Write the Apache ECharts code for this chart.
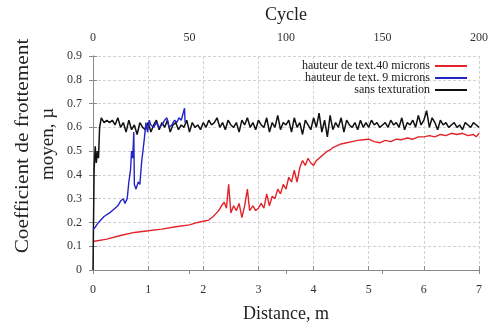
<!DOCTYPE html>
<html>
<head>
<meta charset="utf-8">
<script src="https://cdn.jsdelivr.net/npm/echarts@6/dist/echarts.min.js"></script>
<style>
  html, body { margin: 0; padding: 0; background: #fff; }
  #chart { width: 491px; height: 328px; }
</style>
</head>
<body>
<div id="chart"></div>
<script>
// Axis ranges and tick labels
const distanceTicks = [0, 1, 2, 3, 4, 5, 6, 7];
const cycleTicks = [0, 50, 100, 150, 200];
const muTicks = [0, 0.1, 0.2, 0.3, 0.4, 0.5, 0.6, 0.7, 0.8, 0.9];

const seriesNames = ['hauteur de text.40 microns', 'hauteur de text. 9 microns', 'sans texturation'];

// [distance (m), mean friction coefficient]
const texture40 = [
  [0, 0.12], [0.25, 0.13], [0.5, 0.145], [0.75, 0.158], [1.0, 0.165], [1.25, 0.172],
  [1.5, 0.182], [1.75, 0.19], [1.9, 0.2], [2.0, 0.205], [2.1, 0.21], [2.18, 0.225],
  [2.22, 0.235], [2.28, 0.25], [2.33, 0.27], [2.38, 0.285], [2.42, 0.26], [2.46, 0.36],
  [2.5, 0.24], [2.55, 0.27], [2.6, 0.25], [2.65, 0.28], [2.7, 0.22], [2.75, 0.27],
  [2.8, 0.34], [2.84, 0.25], [2.9, 0.27], [2.95, 0.25], [3.0, 0.26], [3.05, 0.28],
  [3.1, 0.26], [3.15, 0.32], [3.2, 0.27], [3.25, 0.31], [3.3, 0.3], [3.35, 0.34],
  [3.4, 0.32], [3.45, 0.36], [3.5, 0.34], [3.55, 0.39], [3.6, 0.37], [3.65, 0.42],
  [3.7, 0.37], [3.75, 0.43], [3.8, 0.46], [3.85, 0.44], [3.9, 0.47], [3.95, 0.45],
  [4.0, 0.44], [4.05, 0.46], [4.1, 0.47], [4.15, 0.48], [4.2, 0.49], [4.25, 0.5],
  [4.3, 0.505], [4.35, 0.515], [4.4, 0.52], [4.45, 0.525], [4.5, 0.53], [4.6, 0.535],
  [4.7, 0.54], [4.8, 0.545], [4.9, 0.548], [5.0, 0.55], [5.1, 0.54], [5.2, 0.535],
  [5.3, 0.545], [5.4, 0.54], [5.5, 0.55], [5.6, 0.548], [5.7, 0.555], [5.8, 0.55],
  [5.9, 0.56], [6.0, 0.56], [6.1, 0.565], [6.2, 0.56], [6.3, 0.57], [6.4, 0.565],
  [6.5, 0.575], [6.6, 0.57], [6.7, 0.575], [6.8, 0.565], [6.9, 0.57], [6.95, 0.56],
  [7.0, 0.575]
];

const texture9 = [
  [0, 0.17], [0.04, 0.18], [0.1, 0.2], [0.2, 0.225], [0.3, 0.24], [0.4, 0.26],
  [0.45, 0.27], [0.5, 0.29], [0.55, 0.3], [0.58, 0.28], [0.62, 0.3], [0.65, 0.37],
  [0.68, 0.42], [0.7, 0.5], [0.72, 0.47], [0.74, 0.58], [0.75, 0.36], [0.78, 0.34],
  [0.82, 0.37], [0.85, 0.36], [0.88, 0.45], [0.9, 0.49], [0.93, 0.55], [0.96, 0.62],
  [0.99, 0.58], [1.02, 0.63], [1.05, 0.61], [1.1, 0.6], [1.15, 0.62], [1.2, 0.6],
  [1.25, 0.61], [1.3, 0.63], [1.34, 0.64], [1.38, 0.6], [1.43, 0.61], [1.48, 0.63],
  [1.52, 0.62], [1.56, 0.64], [1.6, 0.63], [1.66, 0.68], [1.67, 0.62]
];

const untextured = [
  [0, 0], [0.02, 0.42], [0.04, 0.52], [0.06, 0.45], [0.08, 0.5], [0.1, 0.47], [0.12, 0.6],
  [0.15, 0.64], [0.2, 0.62], [0.25, 0.63], [0.3, 0.62], [0.35, 0.63], [0.4, 0.61],
  [0.45, 0.64], [0.5, 0.6], [0.55, 0.62], [0.6, 0.58], [0.65, 0.63], [0.7, 0.59],
  [0.75, 0.61], [0.8, 0.57], [0.85, 0.62], [0.9, 0.6], [0.95, 0.59], [1.0, 0.62],
  [1.05, 0.58], [1.1, 0.61], [1.15, 0.63], [1.2, 0.59], [1.25, 0.62], [1.3, 0.6],
  [1.35, 0.63], [1.4, 0.58], [1.45, 0.61], [1.5, 0.62], [1.55, 0.59], [1.6, 0.61],
  [1.65, 0.6], [1.7, 0.63], [1.75, 0.58], [1.8, 0.62], [1.85, 0.6], [1.9, 0.61],
  [1.95, 0.59], [2.0, 0.62], [2.05, 0.6], [2.1, 0.63], [2.15, 0.61], [2.2, 0.62],
  [2.25, 0.64], [2.3, 0.6], [2.35, 0.62], [2.4, 0.59], [2.45, 0.63], [2.5, 0.61],
  [2.55, 0.6], [2.6, 0.62], [2.65, 0.58], [2.7, 0.63], [2.75, 0.61], [2.8, 0.64],
  [2.85, 0.6], [2.9, 0.62], [2.95, 0.59], [3.0, 0.63], [3.05, 0.61], [3.1, 0.6],
  [3.15, 0.64], [3.2, 0.58], [3.25, 0.62], [3.3, 0.6], [3.35, 0.65], [3.4, 0.59],
  [3.45, 0.62], [3.5, 0.61], [3.55, 0.63], [3.6, 0.58], [3.65, 0.64], [3.7, 0.6],
  [3.75, 0.62], [3.8, 0.57], [3.85, 0.63], [3.9, 0.61], [3.95, 0.59], [4.0, 0.64],
  [4.05, 0.6], [4.1, 0.66], [4.15, 0.58], [4.2, 0.63], [4.25, 0.56], [4.3, 0.65],
  [4.35, 0.59], [4.4, 0.62], [4.45, 0.6], [4.5, 0.64], [4.55, 0.58], [4.6, 0.63],
  [4.65, 0.61], [4.7, 0.6], [4.75, 0.62], [4.8, 0.59], [4.85, 0.63], [4.9, 0.6],
  [4.95, 0.62], [5.0, 0.6], [5.05, 0.63], [5.1, 0.61], [5.15, 0.62], [5.2, 0.6],
  [5.25, 0.61], [5.3, 0.62], [5.35, 0.6], [5.4, 0.63], [5.45, 0.61], [5.5, 0.62],
  [5.55, 0.6], [5.6, 0.64], [5.65, 0.59], [5.7, 0.62], [5.75, 0.61], [5.8, 0.63],
  [5.85, 0.6], [5.9, 0.65], [5.95, 0.61], [6.0, 0.63], [6.05, 0.67], [6.1, 0.6],
  [6.15, 0.64], [6.2, 0.62], [6.25, 0.59], [6.3, 0.63], [6.35, 0.61], [6.4, 0.62],
  [6.45, 0.6], [6.5, 0.61], [6.55, 0.62], [6.6, 0.6], [6.65, 0.61], [6.7, 0.59],
  [6.75, 0.62], [6.8, 0.61], [6.85, 0.6], [6.9, 0.62], [6.95, 0.61], [7.0, 0.6]
];

const FONT = 'Liberation Serif';
const axisGray = '#8a8a8a';
const gridGray = '#d2d2d2';
const labelColor = '#333';

const chart = echarts.init(document.getElementById('chart'), null, { renderer: 'canvas' });

const baseValueAxis = {
  axisLine: { show: true, lineStyle: { color: axisGray, width: 1 } },
  axisTick: { show: true, inside: true, length: 4, lineStyle: { color: axisGray } },
  axisLabel: { fontFamily: FONT, fontSize: 12, color: labelColor },
  nameTextStyle: { fontFamily: FONT, fontSize: 18, color: '#222' }
};

chart.setOption({
  animation: false,
  backgroundColor: '#fff',
  grid: { left: 93, right: 6, top: 56, bottom: 57, containLabel: false },
  legend: {
    orient: 'vertical',
    right: 19,
    top: 55,
    align: 'right',
    itemGap: 0,
    itemWidth: 32,
    itemHeight: 2,
    icon: 'rect',
    data: seriesNames,
    textStyle: { fontFamily: FONT, fontSize: 12, color: '#222', padding: [0, 0, 0, 0] }
  },
  xAxis: [
    Object.assign({}, baseValueAxis, {
      type: 'value', position: 'bottom',
      min: distanceTicks[0], max: distanceTicks[distanceTicks.length - 1], interval: 1,
      name: 'Distance, m', nameLocation: 'middle', nameGap: 35,
      axisLabel: Object.assign({}, baseValueAxis.axisLabel, { margin: 14 }),
      splitLine: { show: true, lineStyle: { color: gridGray, type: [3, 2], width: 1 } }
    }),
    Object.assign({}, baseValueAxis, {
      type: 'value', position: 'top',
      min: cycleTicks[0], max: cycleTicks[cycleTicks.length - 1], interval: 50,
      name: 'Cycle', nameLocation: 'middle', nameGap: 32,
      axisLabel: Object.assign({}, baseValueAxis.axisLabel, { margin: 12 }),
      splitLine: { show: false }
    })
  ],
  yAxis: [
    Object.assign({}, baseValueAxis, {
      type: 'value', position: 'left',
      min: muTicks[0], max: muTicks[muTicks.length - 1], interval: 0.1,
      axisLabel: Object.assign({}, baseValueAxis.axisLabel, { margin: 11 }),
      splitLine: { show: true, lineStyle: { color: gridGray, type: [3, 2], width: 1 } }
    }),
    Object.assign({}, baseValueAxis, {
      type: 'value', position: 'right',
      min: muTicks[0], max: muTicks[muTicks.length - 1], interval: 0.1,
      axisLabel: { show: false },
      splitLine: { show: false }
    })
  ],
  graphic: [
    {
      type: 'text', x: 23, y: 146, rotation: Math.PI / 2, scaleX: 1.12,
      style: {
        text: 'Coefficient de frottement', fontFamily: FONT, fontSize: 19,
        fill: '#222', textAlign: 'center', textVerticalAlign: 'middle'
      }
    },
    {
      type: 'text', x: 48, y: 144, rotation: Math.PI / 2,
      style: {
        text: 'moyen, µ', fontFamily: FONT, fontSize: 19,
        fill: '#222', textAlign: 'center', textVerticalAlign: 'middle'
      }
    }
  ],
  series: [
    {
      name: seriesNames[0], type: 'line', data: texture40, showSymbol: false,
      xAxisIndex: 0, yAxisIndex: 0, z: 3,
      lineStyle: { color: '#e3242b', width: 1.4 }, itemStyle: { color: '#e3242b' }
    },
    {
      name: seriesNames[1], type: 'line', data: texture9, showSymbol: false,
      xAxisIndex: 0, yAxisIndex: 0, z: 5,
      lineStyle: { color: '#2323c8', width: 1.4 }, itemStyle: { color: '#2323c8' }
    },
    {
      name: seriesNames[2], type: 'line', data: untextured, showSymbol: false,
      xAxisIndex: 0, yAxisIndex: 0, z: 4,
      lineStyle: { color: '#111', width: 1.5 }, itemStyle: { color: '#111' }
    }
  ]
});
</script>
</body>
</html>
